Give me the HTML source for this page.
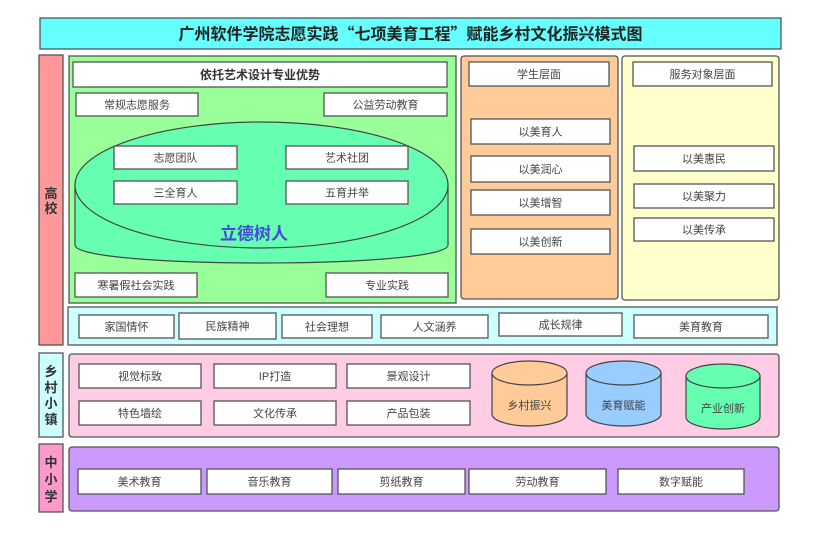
<!DOCTYPE html>
<html><head><meta charset="utf-8"><style>
html,body{margin:0;padding:0;background:#fff;}
svg{display:block;}
text{font-family:"Liberation Sans","Noto Sans CJK SC","WenQuanYi Zen Hei",sans-serif;}
.b{fill:#fff;stroke:#555;stroke-width:1.3;}
.p{stroke:#555;stroke-width:1.3;}
.t{font-size:11px;fill:#444;text-anchor:middle;}
.l{font-size:13px;font-weight:bold;fill:#333;text-anchor:middle;}
.q{font-family:"Noto Sans CJK SC","Noto Sans CJK JP",sans-serif;}
</style></head><body>
<svg width="820" height="535" viewBox="0 0 820 535" xmlns="http://www.w3.org/2000/svg">
<rect x="0" y="0" width="820" height="535" fill="#fff"/>
<!-- title -->
<rect x="40" y="18" width="741" height="31" fill="#66FFFF" class="p"/>
<text x="410.5" y="39.5" font-size="16" font-weight="bold" fill="#222" text-anchor="middle">广州软件学院志愿实践<tspan class="q">“</tspan>七项美育工程<tspan class="q">”</tspan>赋能乡村文化振兴模式图</text>

<!-- left labels -->
<rect x="39" y="55" width="24" height="290" fill="#FF9999" class="p"/>
<text class="l" x="51" y="198">高</text>
<text class="l" x="51" y="213">校</text>

<rect x="39" y="353" width="24" height="84" fill="#CCFFFF" class="p"/>
<text class="l" x="51" y="376">乡</text>
<text class="l" x="51" y="392">村</text>
<text class="l" x="51" y="408">小</text>
<text class="l" x="51" y="424">镇</text>

<rect x="39" y="444" width="24" height="68" fill="#FF99CC" class="p"/>
<text class="l" x="51" y="467">中</text>
<text class="l" x="51" y="484">小</text>
<text class="l" x="51" y="501">学</text>

<!-- green panel -->
<rect x="69" y="56" width="387" height="247" fill="#99FF99" class="p"/>
<rect x="73" y="62" width="374" height="25" class="b"/>
<text x="260" y="79" font-size="12" font-weight="bold" fill="#333" text-anchor="middle">依托艺术设计专业优势</text>
<rect x="76" y="93" width="122" height="23" class="b"/><text class="t" x="137" y="108.5">常规志愿服务</text>
<rect x="324" y="93" width="123" height="23" class="b"/><text class="t" x="385.5" y="108.5">公益劳动教育</text>

<path d="M75,185 L75,245 C75,269 448,269 448,245 L448,185 Z" fill="#66FFB2" stroke="#444" stroke-width="1.2"/>
<ellipse cx="261.5" cy="185" rx="186.5" ry="63" fill="#66FFB2" stroke="#444" stroke-width="1.2"/>

<rect x="114" y="146" width="123" height="23" class="b"/><text class="t" x="175.5" y="161.5">志愿团队</text>
<rect x="286" y="146" width="122" height="23" class="b"/><text class="t" x="347" y="161.5">艺术社团</text>
<rect x="114" y="181" width="123" height="23" class="b"/><text class="t" x="175.5" y="196.5">三全育人</text>
<rect x="286" y="181" width="122" height="23" class="b"/><text class="t" x="347" y="196.5">五育并举</text>
<text x="254" y="239.5" font-size="17" font-weight="bold" fill="#4848DC" text-anchor="middle">立德树人</text>

<rect x="75" y="273" width="122" height="24" class="b"/><text class="t" x="136" y="289">寒暑假社会实践</text>
<rect x="326" y="273" width="122" height="24" class="b"/><text class="t" x="387" y="289">专业实践</text>

<!-- orange panel -->
<rect x="461" y="56" width="157" height="243" rx="3" fill="#FFCC99" class="p"/>
<rect x="469" y="62" width="140" height="24" class="b"/><text class="t" x="539" y="78">学生层面</text>
<rect x="471" y="119" width="139" height="25" class="b"/><text class="t" x="540.5" y="135.5">以美育人</text>
<rect x="471" y="156" width="139" height="26" class="b"/><text class="t" x="540.5" y="173">以美润心</text>
<rect x="471" y="190" width="139" height="25" class="b"/><text class="t" x="540.5" y="206.5">以美增智</text>
<rect x="471" y="229" width="139" height="25" class="b"/><text class="t" x="540.5" y="245.5">以美创新</text>

<!-- yellow panel -->
<rect x="622" y="56" width="157" height="244" rx="3" fill="#FFFFCC" class="p"/>
<rect x="633" y="62" width="139" height="24" class="b"/><text class="t" x="702.5" y="78">服务对象层面</text>
<rect x="634" y="146" width="140" height="25" class="b"/><text class="t" x="704" y="162.5">以美惠民</text>
<rect x="634" y="184" width="140" height="24" class="b"/><text class="t" x="704" y="200">以美聚力</text>
<rect x="634" y="218" width="140" height="23" class="b"/><text class="t" x="704" y="233.5">以美传承</text>

<!-- cyan row -->
<rect x="68" y="307" width="709" height="38" fill="#CCFFFF" class="p"/>
<rect x="79" y="315" width="95" height="23" class="b"/><text class="t" x="126.5" y="330.5">家国情怀</text>
<rect x="179" y="313" width="97" height="26" class="b"/><text class="t" x="227.5" y="330">民族精神</text>
<rect x="282" y="315" width="90" height="23" class="b"/><text class="t" x="327" y="330.5">社会理想</text>
<rect x="381" y="315" width="107" height="23" class="b"/><text class="t" x="434.5" y="330.5">人文涵养</text>
<rect x="499" y="313" width="123" height="23" class="b"/><text class="t" x="560.5" y="328.5">成长规律</text>
<rect x="634" y="315" width="134" height="23" class="b"/><text class="t" x="701" y="330.5">美育教育</text>

<!-- pink panel -->
<rect x="69" y="354" width="710" height="83" rx="3" fill="#FFCCE6" class="p"/>
<rect x="79" y="364" width="122" height="24" class="b"/><text class="t" x="140" y="380">视觉标致</text>
<rect x="214" y="364" width="122" height="24" class="b"/><text class="t" x="275" y="380">IP打造</text>
<rect x="347" y="364" width="123" height="24" class="b"/><text class="t" x="408.5" y="380">景观设计</text>
<rect x="79" y="401" width="122" height="24" class="b"/><text class="t" x="140" y="417">特色墙绘</text>
<rect x="214" y="401" width="122" height="24" class="b"/><text class="t" x="275" y="417">文化传承</text>
<rect x="347" y="401" width="123" height="24" class="b"/><text class="t" x="408.5" y="417">产品包装</text>

<path d="M492,373 L492,414 A37.5,12 0 0 0 567,414 L567,373 Z" fill="#FFCC99" stroke="#444" stroke-width="1.2"/>
<ellipse cx="529.5" cy="373" rx="37.5" ry="12" fill="#FFCC99" stroke="#444" stroke-width="1.2"/>
<text class="t" x="529.5" y="409">乡村振兴</text>

<path d="M586,373 L586,414 A37.5,12 0 0 0 661,414 L661,373 Z" fill="#99CCFF" stroke="#444" stroke-width="1.2"/>
<ellipse cx="623.5" cy="373" rx="37.5" ry="12" fill="#99CCFF" stroke="#444" stroke-width="1.2"/>
<text class="t" x="623.5" y="409">美育赋能</text>

<path d="M686,376 L686,417 A37,12 0 0 0 760,417 L760,376 Z" fill="#66FFB2" stroke="#444" stroke-width="1.2"/>
<ellipse cx="723" cy="376" rx="37" ry="12" fill="#66FFB2" stroke="#444" stroke-width="1.2"/>
<text class="t" x="723" y="412">产业创新</text>

<!-- purple panel -->
<rect x="69" y="447" width="710" height="64" rx="3" fill="#CC99FF" class="p"/>
<rect x="78" y="469" width="123" height="25" class="b"/><text class="t" x="139.5" y="485.5">美术教育</text>
<rect x="207" y="469" width="125" height="25" class="b"/><text class="t" x="269.5" y="485.5">音乐教育</text>
<rect x="338" y="469" width="127" height="25" class="b"/><text class="t" x="401.5" y="485.5">剪纸教育</text>
<rect x="469" y="469" width="137" height="25" class="b"/><text class="t" x="537.5" y="485.5">劳动教育</text>
<rect x="618" y="469" width="126" height="25" class="b"/><text class="t" x="681" y="485.5">数字赋能</text>
</svg>
</body></html>
